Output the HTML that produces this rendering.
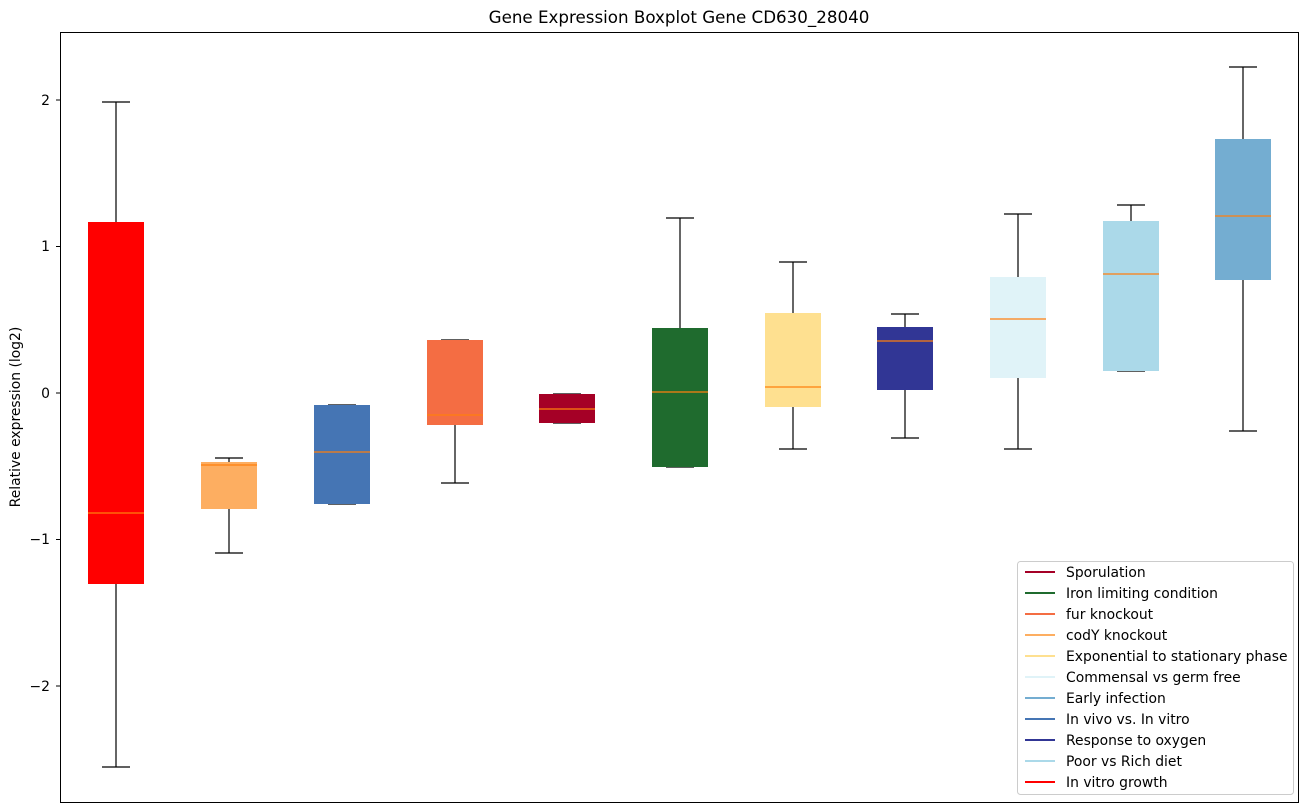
<!DOCTYPE html>
<html><head><meta charset="utf-8"><style>body{margin:0;background:#fff}svg{display:block}text{font-family:"DejaVu Sans","Liberation Sans",sans-serif;fill:#000}</style></head><body>
<svg width="1309" height="812" viewBox="0 0 1309 812" xmlns="http://www.w3.org/2000/svg">
<text x="679" y="23" font-size="16.7" text-anchor="middle">Gene Expression Boxplot Gene CD630_28040</text>
<g font-size="13.9" text-anchor="end">
<line x1="56" x2="60" y1="100" y2="100" stroke="#000"/><text x="50" y="105">2</text>
<line x1="56" x2="60" y1="246.5" y2="246.5" stroke="#000"/><text x="50" y="251">1</text>
<line x1="56" x2="60" y1="393" y2="393" stroke="#000"/><text x="50" y="398">0</text>
<line x1="56" x2="60" y1="539.5" y2="539.5" stroke="#000"/><text x="50" y="544">−1</text>
<line x1="56" x2="60" y1="686" y2="686" stroke="#000"/><text x="50" y="691">−2</text>
</g>
<text transform="translate(20,417) rotate(-90)" font-size="13.9" text-anchor="middle">Relative expression (log2)</text>
<g stroke="#000" stroke-width="1.2" fill="none">
<path d="M116 102V222M116 584V767M102 102H130M102 767H130"/>
<path d="M229 458V462M229 509V553M215 458H243M215 553H243"/>
<path d="M328 405H356M328 504H356"/>
<path d="M455 425V483M441 340H469M441 483H469"/>
<path d="M553 394H581M553 423H581"/>
<path d="M680 218V328M666 218H694M666 467H694"/>
<path d="M793 262V313M793 407V449M779 262H807M779 449H807"/>
<path d="M905 314V327M905 390V438M891 314H919M891 438H919"/>
<path d="M1018 214V277M1018 378V449M1004 214H1032M1004 449H1032"/>
<path d="M1131 205V221M1117 205H1145M1117 371H1145"/>
<path d="M1243 67V139M1243 280V431M1229 67H1257M1229 431H1257"/>
</g>
<rect x="88" y="222" width="56" height="362" fill="#ff0000"/>
<rect x="201" y="462" width="56" height="47" fill="#fdae61"/>
<rect x="314" y="405" width="56" height="99" fill="#4575b4"/>
<rect x="427" y="340" width="56" height="85" fill="#f46d43"/>
<rect x="539" y="394" width="56" height="29" fill="#a50026"/>
<rect x="652" y="328" width="56" height="139" fill="#1f6b2e"/>
<rect x="765" y="313" width="56" height="94" fill="#fee090"/>
<rect x="877" y="327" width="56" height="63" fill="#313695"/>
<rect x="990" y="277" width="56" height="101" fill="#e0f3f8"/>
<rect x="1103" y="221" width="56" height="150" fill="#abd9e9"/>
<rect x="1215" y="139" width="56" height="141" fill="#74add1"/>
<g stroke="#ff7f0e" stroke-width="1.2">
<path d="M88 513H144M201 465H257M314 452H370M427 415H483M539 409H595M652 392H708M765 387H821M877 341H933M990 319H1046M1103 274H1159M1215 216H1271"/>
</g>
<rect x="60.5" y="32.5" width="1238" height="770" fill="none" stroke="#000"/>
<rect x="1017.5" y="561.5" width="276" height="233" rx="3" fill="#fff" stroke="#ccc"/>
<g font-size="13.9" stroke-width="2">
<line x1="1025" x2="1055" y1="572" y2="572" stroke="#a50026"/><text x="1066" y="577">Sporulation</text>
<line x1="1025" x2="1055" y1="593" y2="593" stroke="#1f6b2e"/><text x="1066" y="598">Iron limiting condition</text>
<line x1="1025" x2="1055" y1="614" y2="614" stroke="#f46d43"/><text x="1066" y="619">fur knockout</text>
<line x1="1025" x2="1055" y1="635" y2="635" stroke="#fdae61"/><text x="1066" y="640">codY knockout</text>
<line x1="1025" x2="1055" y1="656" y2="656" stroke="#fee090"/><text x="1066" y="661">Exponential to stationary phase</text>
<line x1="1025" x2="1055" y1="677" y2="677" stroke="#e0f3f8"/><text x="1066" y="682">Commensal vs germ free</text>
<line x1="1025" x2="1055" y1="698" y2="698" stroke="#74add1"/><text x="1066" y="703">Early infection</text>
<line x1="1025" x2="1055" y1="719" y2="719" stroke="#4575b4"/><text x="1066" y="724">In vivo vs. In vitro</text>
<line x1="1025" x2="1055" y1="740" y2="740" stroke="#313695"/><text x="1066" y="745">Response to oxygen</text>
<line x1="1025" x2="1055" y1="761" y2="761" stroke="#abd9e9"/><text x="1066" y="766">Poor vs Rich diet</text>
<line x1="1025" x2="1055" y1="782" y2="782" stroke="#ff0000"/><text x="1066" y="787">In vitro growth</text>
</g>
</svg>
</body></html>
